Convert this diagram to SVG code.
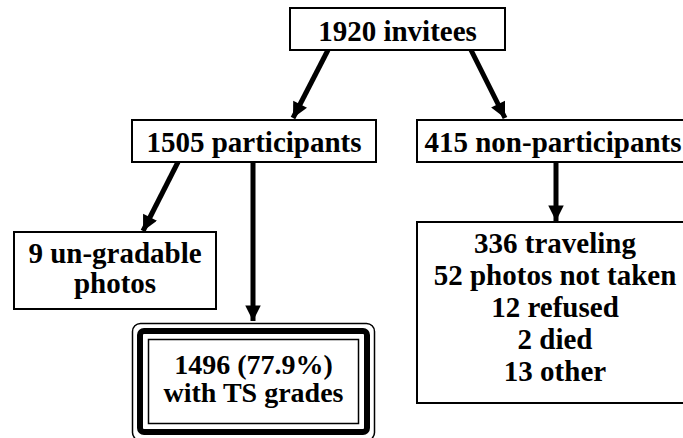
<svg xmlns="http://www.w3.org/2000/svg" width="683" height="438" viewBox="0 0 683 438">
<style>
.box{fill:#fff;stroke:#000;stroke-width:2}
.t{font-family:'Liberation Serif','Times New Roman',serif;font-weight:bold;font-size:29px;fill:#000;text-anchor:middle}
.s{font-size:28px}
.c{stroke:#000;stroke-width:5;fill:none;marker-end:url(#ah)}
</style>
<defs>
<marker id="ah" viewBox="0 0 10 10" refX="10" refY="5" markerWidth="3.3" markerHeight="3.1" orient="auto" markerUnits="strokeWidth">
<path d="M0,0 L10,5 L0,10 z" fill="#000"/>
</marker>
</defs>
<rect width="683" height="438" fill="#fff"/>
<g id="connectors">
<line class="c" x1="328" y1="50" x2="293" y2="118"/>
<line class="c" x1="471" y1="50" x2="505" y2="118"/>
<line class="c" x1="178" y1="162" x2="143" y2="231"/>
<line class="c" x1="253" y1="162" x2="253" y2="321"/>
<line class="c" x1="556" y1="162" x2="556" y2="221"/>
</g>
<g id="n1920">
<rect class="box" x="290" y="8" width="215" height="42"/>
<text class="t" x="397.5" y="41">1920 invitees</text>
</g>
<g id="n1505">
<rect class="box" x="132" y="120" width="244" height="42"/>
<text class="t" x="254" y="152">1505 participants</text>
</g>
<g id="n415">
<rect class="box" x="417" y="120" width="270" height="42"/>
<text class="t" x="553" y="152">415 non-participants</text>
</g>
<g id="n9">
<rect class="box" x="14" y="232" width="202" height="77"/>
<text class="t" x="115" y="263">9 un-gradable</text>
<text class="t" x="115" y="293">photos</text>
</g>
<g id="n1496">
<rect x="132.5" y="323.5" width="242" height="117" rx="8" fill="#fff" stroke="#000" stroke-width="1.5"/>
<rect x="140" y="331" width="227" height="101" rx="4" fill="none" stroke="#000" stroke-width="6"/>
<rect x="148.5" y="339.5" width="210" height="84" fill="none" stroke="#000" stroke-width="1.5"/>
<text class="t s" x="253.5" y="374">1496 (77.9%)</text>
<text class="t s" x="253.5" y="402">with TS grades</text>
</g>
<g id="n415detail">
<rect class="box" x="417" y="222" width="270" height="181"/>
<text class="t" x="555" y="253">336 traveling</text>
<text class="t" x="555" y="285">52 photos not taken</text>
<text class="t" x="555" y="317">12 refused</text>
<text class="t" x="555" y="349">2 died</text>
<text class="t" x="555" y="381">13 other</text>
</g>
</svg>
